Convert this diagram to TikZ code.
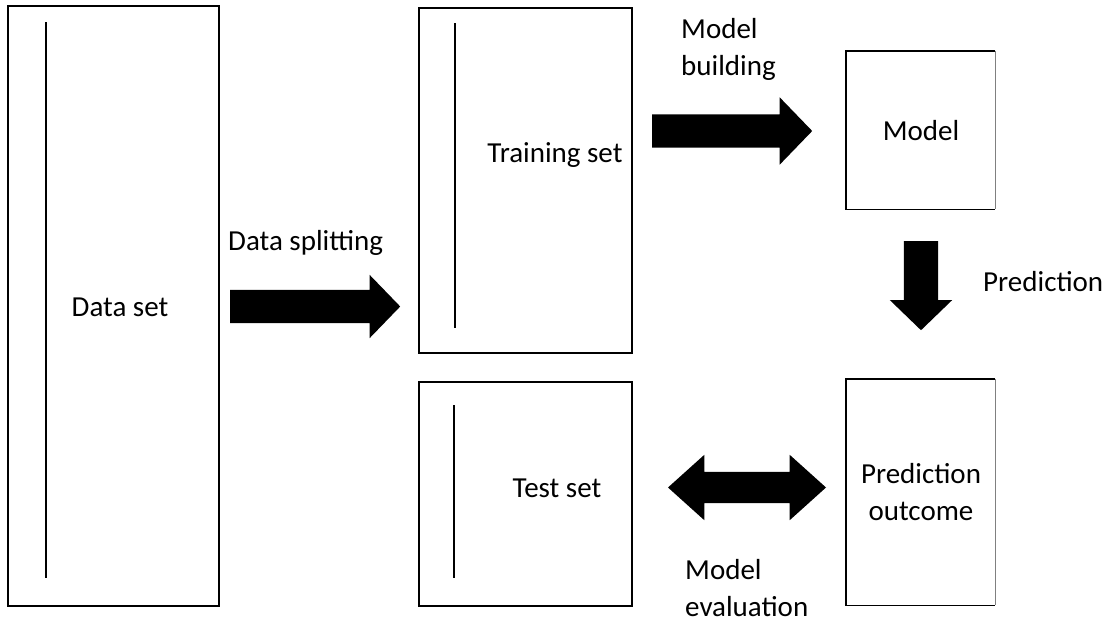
\documentclass[tikz,border=0pt]{standalone}
\usepackage{fontspec}
\setmainfont{Carlito}
\usetikzlibrary{shapes.arrows}
\tikzset{
  box/.style={draw,line width=1.4pt,rectangle,inner sep=0pt},
  openbox/.style={rectangle,inner sep=0pt},
  bar/.style={line width=2.6pt},
  blockarrow/.style={single arrow,fill=black,inner xsep=0pt,inner ysep=16.5pt,
    single arrow head extend=15pt,single arrow tip angle=92,anchor=tail},
  dblarrow/.style={double arrow,fill=black,inner xsep=0pt,inner ysep=15.5pt,
    double arrow head extend=17pt,double arrow tip angle=84},
  lbl/.style={align=left,inner sep=0pt,font=\fontsize{29}{37}\selectfont}
}
\begin{document}
\begin{tikzpicture}[x=1pt,y=-1pt]
  \useasboundingbox (0,0) rectangle (1105,621);
  % boxes
  \node[box,minimum width=211pt,minimum height=600pt] (data) at (113.5,306) {};
  \node[box,minimum width=213pt,minimum height=345pt] (train) at (525.5,180.5) {};
  \node[box,minimum width=213pt,minimum height=224pt] (test) at (525.5,494) {};
  \node[openbox,minimum width=149pt,minimum height=158pt] (model) at (920.5,130) {};
  \node[openbox,minimum width=149pt,minimum height=226pt] (outcome) at (920.5,492) {};
  \draw[line width=1.4pt] (model.north east) -- (model.north west) -- (model.south west) -- (model.south east);
  \draw[gray,line width=0.6pt] (model.north east) -- (model.south east);
  \draw[line width=1.4pt] (outcome.north east) -- (outcome.north west) -- (outcome.south west) -- (outcome.south east);
  \draw[gray,line width=0.6pt] (outcome.north east) -- (outcome.south east);
  % bars
  \draw[bar] (46,22) -- (46,578);
  \draw[bar] (455,23) -- (455,328);
  \draw[bar] (454,405) -- (454,578);
  % box texts
  \node[lbl] at (120,307) {Data set};
  \node[lbl] at (555,155) {Training set};
  \node[lbl] at (557,488) {Test set};
  \node[lbl] at (921,131) {Model};
  \node[lbl,align=center] at (921,492) {Prediction\\outcome};
  % arrows
  \node[blockarrow,minimum height=170pt] (split) at (230,306.5) {};
  \node[blockarrow,minimum height=160pt,single arrow head extend=17pt] (build) at (652,131) {};
  \node[blockarrow,minimum height=89pt,rotate=-90,inner ysep=17pt,single arrow head extend=14pt] (predict) at (921,241) {};
  \node[dblarrow,minimum height=158pt] (eval) at (747,487.5) {};
  % arrow labels
  \node[lbl,anchor=west] at (228,243) {Data splitting};
  \node[lbl,anchor=west] at (681,49.5) {Model\\building};
  \node[lbl,anchor=west] at (983,282) {Prediction};
  \node[lbl,anchor=west] at (685,588) {Model\\evaluation};
\end{tikzpicture}
\end{document}
